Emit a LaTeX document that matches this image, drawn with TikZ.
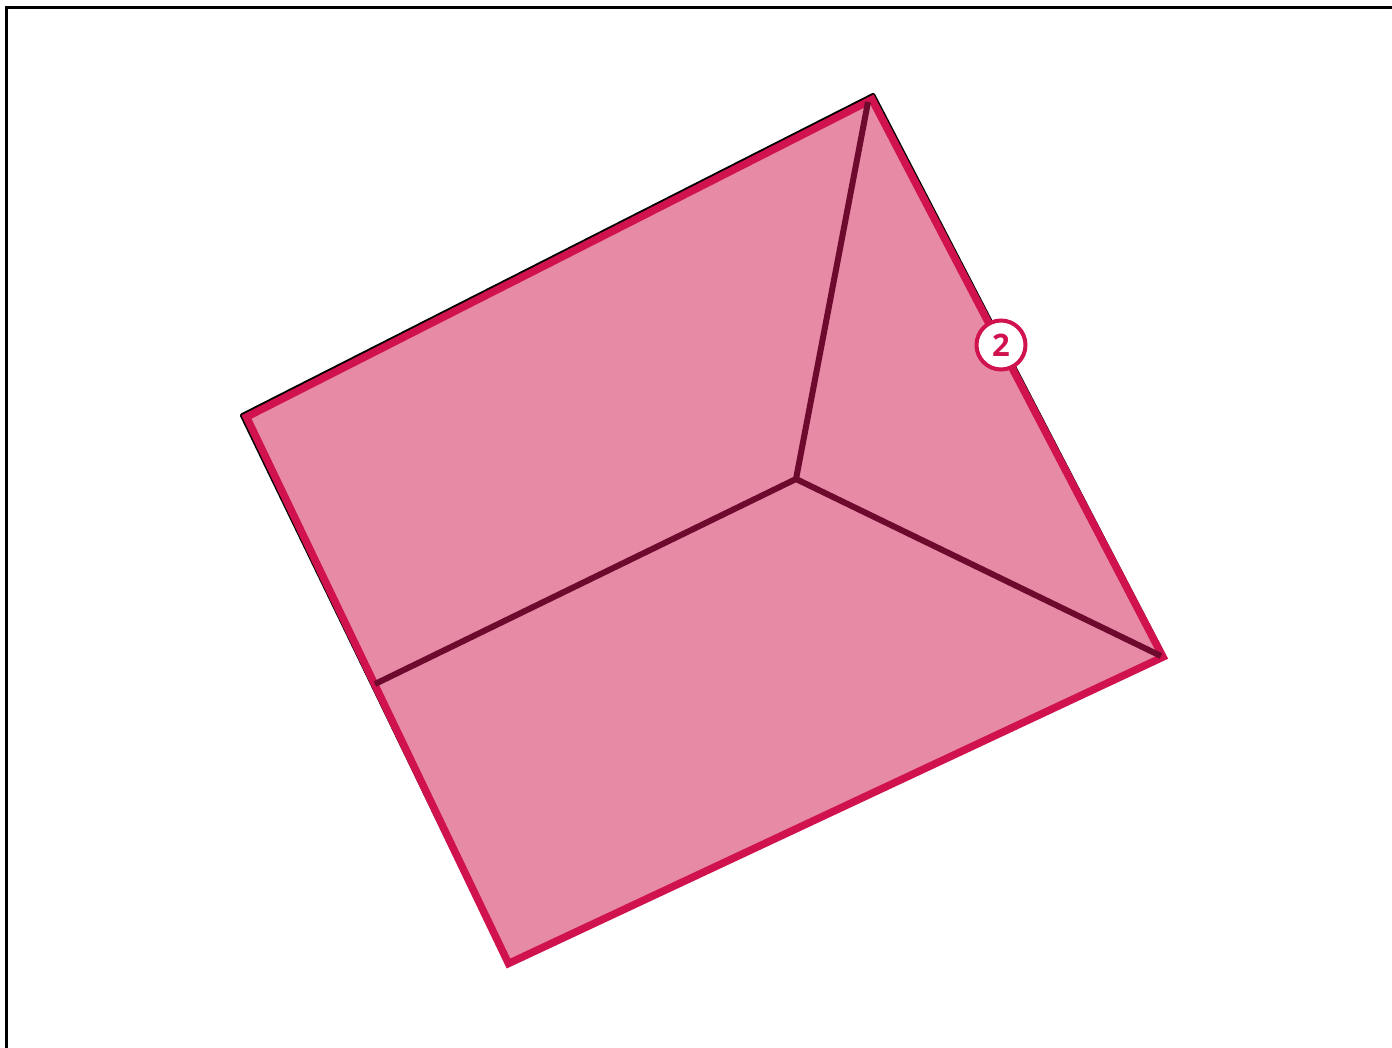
\documentclass[tikz,border=0pt]{standalone}
\usepackage{fontspec}
\setmainfont{Open Sans}
\usepackage{tikz}
\definecolor{roofedge}{HTML}{D0134F}
\definecolor{rooffill}{HTML}{E78AA6}
\definecolor{roofridge}{HTML}{6D0A2E}
\tikzset{
  % --- outer frame and shadow edge ---
  pageframe/.style={draw=black, line width=3pt},
  backedge/.style={draw=black, line width=5pt, line join=round},
  % --- roof faces ---
  roofface/.style={fill=rooffill, draw=roofedge, line width=7.5pt, line join=miter},
  ridgeline/.style={draw=roofridge, line width=6pt},
  % --- numbered marker ---
  marker/.style={draw=roofedge, fill=white, circle, line width=4pt,
    minimum size=49pt, inner sep=0pt, text=roofedge, font=\fontsize{31}{31}\selectfont\bfseries},
}
\begin{document}
\begin{tikzpicture}[x=1pt, y=-1pt]
    \useasboundingbox (0,0) rectangle (1392,1047);
    % ---- Frame, cut off by the page ----
    \draw[pageframe] (6.5,1060) -- (6.5,7.5) -- (1400,7.5);
    % ---- Corners ----
    \coordinate (backW) at (242.5,415.5);
    \coordinate (backN) at (873,95.5);
    \coordinate (backE) at (1163,655);
    \coordinate (backS) at (507,961);
    \coordinate (cornerW) at (246.5,417);
    \coordinate (cornerN) at (872,99.5);
    \coordinate (cornerE) at (1163,657);
    \coordinate (cornerS) at (508.5,963.5);
    \coordinate (apex) at (796,479);
    \coordinate (ridgeN) at (868,102);
    \coordinate (ridgeW) at (375,684);
    \coordinate (ridgeE) at (1161,656);
    % ---- Black edge behind the roof ----
    \draw[backedge] (backS) -- (backW) -- (backN) -- (backE);
    % ---- Roof outline ----
    \draw[roofface] (cornerW) -- (cornerN) -- (cornerE) -- (cornerS) -- cycle;
    % ---- Ridges ----
    \draw[ridgeline] (ridgeN) -- (apex);
    \draw[ridgeline] (ridgeW) -- (apex);
    \draw[ridgeline] (ridgeE) -- (apex);
    % ---- Marker ----
    \node[marker] (mark2) at (1001,345) {2};
\end{tikzpicture}
\end{document}
